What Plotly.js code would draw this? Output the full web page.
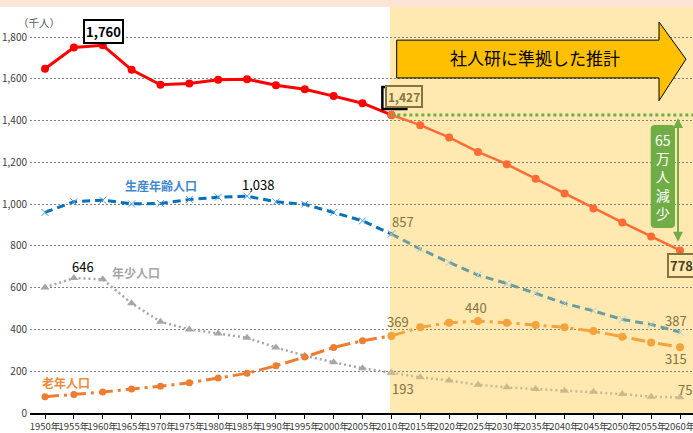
<!DOCTYPE html>
<html><head><meta charset="utf-8">
<script src="https://cdn.plot.ly/plotly-3.0.1.min.js"></script>
<style>html,body{margin:0;padding:0;background:#fff;}#chart{width:693px;height:433px;}</style>
</head><body><div id="chart"></div>
<script>
// ---- data ----
const years = [1950,1955,1960,1965,1970,1975,1980,1985,1990,1995,2000,2005,2010,2015,2020,2025,2030,2035,2040,2045,2050,2055,2060];
const totalPop   = [1648,1750,1760,1643,1571,1577,1595,1598,1569,1550,1517,1483,1427,1378,1319,1250,1191,1121,1051,979,912,845,778];
const workingPop = [960,1011,1019,1001,1003,1022,1033,1038,1011,999,960,920,857,785,721,660,620,574,525,489,448,424,387];
const youngPop   = [601,646,640,525,437,400,381,360,314,274,243,214,193,171,156,135,123,115,107,102,91,78,75];
const elderlyPop = [78,89,100,115,128,145,167,190,226,268,314,346,369,410,432,440,432,421,410,392,365,338,315];
const tickText = years.map(y => y + '年');
const projStart = years.indexOf(2010);

const NARROW = '"Liberation Sans Narrow", "Arial Narrow", "Noto Sans CJK JP", sans-serif';
const JP = '"Noto Sans CJK JP", sans-serif';
const SHADE = '#FFE9B1';
const KHAKI = '#86733F';

const hist = a => a.slice(0, projStart + 1);
const proj = a => a.slice(projStart);

function tr(xs, ys, color, width, dash, sym, msize, mcolor, mline) {
  return {x: xs, y: ys, type: 'scatter', mode: 'lines+markers', hoverinfo: 'skip',
    line: {color: color, width: width, dash: dash},
    marker: {symbol: sym, size: msize, color: mcolor || color, line: mline || {width: 0}}};
}

const traces = [
  tr(hist(years), hist(youngPop), '#A6A6A6', 2.5, '2px,3px', 'triangle-up', 8),
  tr(proj(years), proj(youngPop), '#C9B98D', 2.5, '2px,3px', 'triangle-up', 8),
  tr(hist(years), hist(elderlyPop), '#ED7D31', 3, '14px,5px,3px,5px', 'circle', 7),
  tr(proj(years), proj(elderlyPop), '#F5A33D', 3, '14px,5px,3px,5px', 'circle', 8),
  tr(hist(years), hist(workingPop), '#0070C0', 3, '8px,5px', 'x-thin', 7, '#5B9BD5', {width: 1, color: '#5B9BD5'}),
  tr(proj(years), proj(workingPop), '#6C9C9C', 3, '8px,5px', 'x-thin', 7, '#A9C9C9', {width: 1, color: '#A9C9C9'}),
  tr(hist(years), hist(totalPop), '#FF0000', 3, 'solid', 'circle', 8),
  tr(proj(years), proj(totalPop), '#FF6B35', 2.5, 'solid', 'circle', 8),
];

// arrow shape geometry (decoration)
const ax0 = 2010.92, axHead = 2056.36, axTip = 2061.03;
const ayTop = 1785, ayBot = 1604, ayHT = 1872, ayHB = 1495, ayMid = 1694;
const arrowPath = `M ${ax0},${ayTop} L ${axHead},${ayTop} L ${axHead},${ayHT} L ${axTip},${ayMid} L ${axHead},${ayHB} L ${axHead},${ayBot} L ${ax0},${ayBot} Z`;

// green rounded box
const gx0 = 2054.92, gx1 = 2059.13, gy0 = 886, gy1 = 1379, rx = 0.7, ry = 19;
const greenPath = `M ${gx0+rx},${gy1} L ${gx1-rx},${gy1} Q ${gx1},${gy1} ${gx1},${gy1-ry} L ${gx1},${gy0+ry} Q ${gx1},${gy0} ${gx1-rx},${gy0} L ${gx0+rx},${gy0} Q ${gx0},${gy0} ${gx0},${gy0+ry} L ${gx0},${gy1-ry} Q ${gx0},${gy1} ${gx0+rx},${gy1} Z`;

const i1960 = years.indexOf(1960), i1955 = years.indexOf(1955), i1985 = years.indexOf(1985);
const i2025 = years.indexOf(2025), i2060 = years.indexOf(2060);
const fmt = v => v.toLocaleString('en-US');

function lab(x, y, text, dx, dy, color, size) {
  return {x: x, y: y, text: text, showarrow: false, xshift: dx, yshift: dy,
    font: {family: NARROW, size: size || 13, color: color}};
}

const annotations = [
  {xref: 'paper', yref: 'paper', x: 0.0136, y: 0.963, xanchor: 'center', yanchor: 'middle', text: '（千人）', showarrow: false,
   font: {family: JP, size: 10.5, color: '#595959'}},
  {x: years[i1960], y: totalPop[i1960], text: '<b>' + fmt(totalPop[i1960]) + '</b>', showarrow: true,
   arrowhead: 0, arrowwidth: 1, arrowcolor: '#000', ax: 1, ay: -14, bgcolor: '#fff',
   bordercolor: '#000', borderwidth: 2, borderpad: 1, font: {family: NARROW, size: 13, color: '#000'}},
  {x: years[projStart], y: totalPop[projStart], text: '<b>' + fmt(totalPop[projStart]) + '</b>', showarrow: false,
   xshift: 13, yshift: 18, bgcolor: SHADE, bordercolor: KHAKI, borderwidth: 2, borderpad: 1,
   font: {family: NARROW, size: 12, color: KHAKI}},
  {x: years[i2060], y: totalPop[i2060], text: '<b>' + fmt(totalPop[i2060]) + '</b>', showarrow: true,
   arrowhead: 0, arrowwidth: 1, arrowcolor: KHAKI, ax: 1, ay: 15, bgcolor: SHADE,
   bordercolor: KHAKI, borderwidth: 2, borderpad: 1, font: {family: NARROW, size: 13, color: '#4D3F1A'}},
  lab(years[i1985], workingPop[i1985], fmt(workingPop[i1985]), 11, 12, '#000', 13),
  lab(years[i1955], youngPop[i1955], fmt(youngPop[i1955]), 9, 12, '#000', 13),
  lab(years[projStart], workingPop[projStart], fmt(workingPop[projStart]), 12, 12, KHAKI, 13),
  lab(years[projStart], elderlyPop[projStart], fmt(elderlyPop[projStart]), 7, 14, KHAKI, 13),
  lab(years[projStart], youngPop[projStart], fmt(youngPop[projStart]), 12, -16, KHAKI, 13),
  lab(years[i2025], elderlyPop[i2025], fmt(elderlyPop[i2025]), -2, 14, KHAKI, 13),
  lab(years[i2060], workingPop[i2060], fmt(workingPop[i2060]), -4, 12, KHAKI, 13),
  lab(years[i2060], elderlyPop[i2060], fmt(elderlyPop[i2060]), -4, -11, KHAKI, 13),
  lab(years[i2060], youngPop[i2060], fmt(youngPop[i2060]), 5, 8, KHAKI, 13),
  {x: 1970.1, y: 1091, text: '<b>生産年齢人口</b>', showarrow: false, font: {family: JP, size: 12, color: '#3F88D0'}},
  {x: 1965.8, y: 675, text: '<b>年少人口</b>', showarrow: false, font: {family: JP, size: 12, color: '#A6A6A6'}},
  {x: 1953.6, y: 144, text: '<b>老年人口</b>', showarrow: false, font: {family: JP, size: 12, color: '#F08A3C'}},
  {x: 2034.9, y: 1701, text: '社人研に準拠した推計', showarrow: false, font: {family: JP, size: 17, color: '#000'}},
  {x: 2059.65, y: 820, ax: 2059.65, ay: 1420, axref: 'x', ayref: 'y', text: '', showarrow: true,
   arrowside: 'end+start', arrowhead: 2, arrowsize: 1, arrowwidth: 2, arrowcolor: '#70AD47'},
  {x: 2057.0, y: 1130, text: '65<br>万<br>人<br>減<br>少', showarrow: false,
   font: {family: JP, size: 14, color: '#fff'}},
];

const shapes = [
  {type: 'rect', xref: 'paper', yref: 'paper', x0: -0.1, x1: 1.1, y0: 1, y1: 1.03, fillcolor: '#FBE5D6', line: {width: 0}, layer: 'below'},
  {type: 'rect', xref: 'x', yref: 'paper', x0: 2009.75, x1: 2063, y0: 0, y1: 1, fillcolor: SHADE, line: {width: 0}, layer: 'below'},
  {type: 'line', xref: 'x', yref: 'y', x0: years[projStart], x1: 2063, y0: totalPop[projStart], y1: totalPop[projStart],
   line: {color: '#70AD47', width: 3, dash: 'dot'}, layer: 'above'},
  {type: 'path', xref: 'x', yref: 'y', path: arrowPath, fillcolor: '#FFC000', line: {color: '#000', width: 1}, layer: 'above'},
  {type: 'path', xref: 'x', yref: 'y', path: greenPath, fillcolor: '#70AD47', line: {width: 0}, layer: 'above'},
  {type: 'rect', xref: 'x', yref: 'y', xsizemode: 'pixel', ysizemode: 'pixel', xanchor: years[projStart], yanchor: totalPop[projStart],
   x0: -9, x1: 15, y0: 6, y1: 28, line: {color: '#000', width: 2.5}, fillcolor: 'rgba(0,0,0,0)', layer: 'above'},
];

const layout = {
  width: 693, height: 433,
  margin: {l: 30, r: 0, t: 7, b: 20},
  paper_bgcolor: '#fff', plot_bgcolor: '#fff',
  showlegend: false,
  xaxis: {range: [1947.4, 2062.25], tickmode: 'array', tickvals: years, ticktext: tickText, tickangle: 0,
    ticklabeloverflow: 'allow',
    showgrid: false, zeroline: false, showline: true, linecolor: '#000', linewidth: 1.5,
    ticks: 'outside', ticklen: 4, tickcolor: '#000',
    tickfont: {family: NARROW, size: 9.5, color: '#404040'}},
  yaxis: {range: [0, 1943.6], tick0: 0, dtick: 200, tickformat: ',d', showline: false, zeroline: false,
    showgrid: true, gridcolor: '#808080', griddash: '2px,2px', gridwidth: 1,
    tickfont: {family: NARROW, size: 10, color: '#404040'}, ticklabelstandoff: 2},
  annotations: annotations,
  shapes: shapes,
};

Plotly.newPlot('chart', traces, layout, {displayModeBar: false, staticPlot: true});
</script></body></html>
